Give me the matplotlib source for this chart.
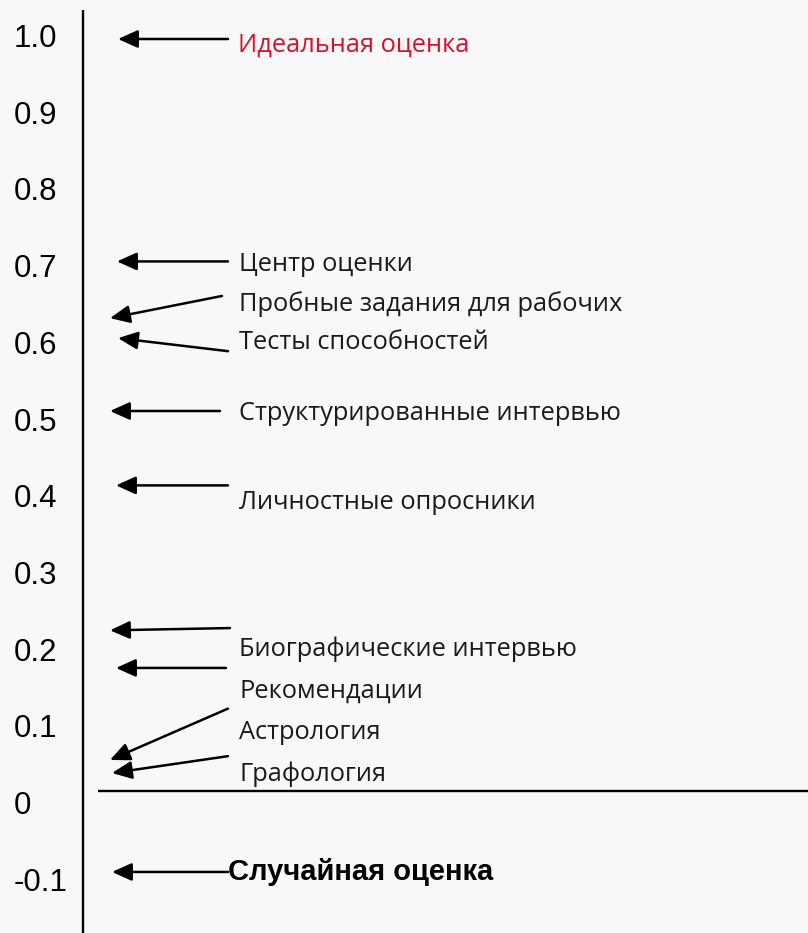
import matplotlib

matplotlib.use("Agg")
import matplotlib.pyplot as plt

# tick values on the scale
tick_vals = [1.0, 0.9, 0.8, 0.7, 0.6, 0.5, 0.4, 0.3, 0.2, 0.1, 0.0, -0.1]
tick_text = ["1.0", "0.9", "0.8", "0.7", "0.6", "0.5", "0.4", "0.3", "0.2", "0.1", "0", "-0.1"]

# methods and the validity each arrow points at
labels = ["Центр оценки", "Пробные задания для рабочих", "Тесты способностей",
          "Структурированные интервью", "Личностные опросники",
          "Биографические интервью", "Рекомендации", "Астрология", "Графология"]
arrow_vals = [0.71, 0.636, 0.61, 0.515, 0.418, 0.229, 0.18, 0.06, 0.043]
ideal_val = 1.0
random_val = -0.086

# layout (label and arrow-tail heights, pixel-based x)
label_y = [0.706, 0.654, 0.604, 0.512, 0.396, 0.204, 0.149, 0.096, 0.042]
tail_y = [0.71, 0.665, 0.593, 0.515, 0.418, 0.232, 0.18, 0.127, 0.065]
tip_x = [117, 110, 118, 110, 116, 110, 116, 110, 112]
tail_x = [228, 222, 228, 220, 228, 230, 226, 228, 228]

W, H = 808, 933
Y0, SCALE = 806, 767  # pixel row of 0 and pixels per unit


def pv(py):
    return (Y0 - py) / SCALE


BG = "#f8f8f8"
LABEL_FONT = ["Open Sans", "DejaVu Sans"]
TICK_FONT = ["Liberation Sans", "DejaVu Sans"]

fig = plt.figure(figsize=(W / 100, H / 100), dpi=100, facecolor=BG)
ax = fig.add_axes([0, 0, 1, 1], facecolor=BG)
ax.set_xlim(0, W)
ax.set_ylim(pv(H), pv(0))
ax.axis("off")

# scale line and zero baseline
ax.plot([83, 83], [pv(10), pv(H)], color="black", lw=1.7, solid_capstyle="butt")
ax.plot([98, W], [pv(791), pv(791)], color="black", lw=1.7, solid_capstyle="butt")

for v, t in zip(tick_vals, tick_text):
    ax.text(14, v, t, ha="left", va="center", fontsize=22.5, family=TICK_FONT)

arrow = dict(arrowstyle="-|>,head_length=0.6,head_width=0.27", lw=1.8, color="black",
             shrinkA=0, shrinkB=0, mutation_scale=20)

ax.annotate("", xy=(118, ideal_val), xytext=(228, ideal_val), arrowprops=arrow)
ax.text(238, pv(45), "Идеальная оценка", ha="left", va="center", fontsize=18.3,
        color="#d6112d", family=LABEL_FONT)

for lab, v, ly, ty, tx, sx in zip(labels, arrow_vals, label_y, tail_y, tip_x, tail_x):
    ax.annotate("", xy=(tx, v), xytext=(sx, ty), arrowprops=arrow)
    ax.text(239, ly, lab, ha="left", va="center", fontsize=18.3, color="#1a1a1a",
            family=LABEL_FONT)

ax.annotate("", xy=(112, random_val), xytext=(228, random_val), arrowprops=arrow)
ax.text(228, pv(872), "Случайная оценка", ha="left", va="center", fontsize=21,
        fontweight="bold", family=TICK_FONT)

fig.savefig("out.png", dpi=100, facecolor=BG)
